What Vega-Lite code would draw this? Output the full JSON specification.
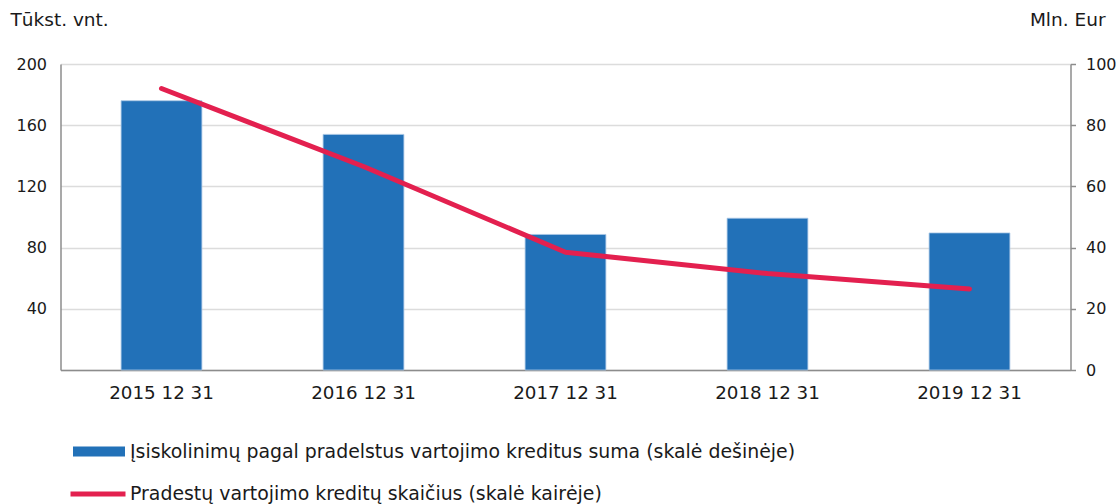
{
  "$schema": "https://vega.github.io/schema/vega-lite/v6.json",
  "width": 1010,
  "height": 306,
  "autosize": "none",
  "padding": {"left": 60.5, "top": 64, "right": 48.5, "bottom": 134},
  "background": "white",
  "config": {
    "font": "DejaVu Sans",
    "view": {"stroke": null},
    "axis": {"labelColor": "#1a1a1a", "titleColor": "#1a1a1a", "domainColor": "#8c8c8c", "domainWidth": 1.5, "tickColor": "#8c8c8c", "gridColor": "#dcdcdc", "gridWidth": 1.5}
  },
  "data": {
    "values": [
      {"date": "2015 12 31", "amount": 88.0, "count": 184},
      {"date": "2016 12 31", "amount": 77.0, "count": 133},
      {"date": "2017 12 31", "amount": 44.3, "count": 77},
      {"date": "2018 12 31", "amount": 49.6, "count": 63},
      {"date": "2019 12 31", "amount": 44.8, "count": 53}
    ]
  },
  "encoding": {
    "x": {
      "field": "date", "type": "nominal", "sort": null,
      "scale": {"paddingInner": 0.6, "paddingOuter": 0.3},
      "axis": {"title": null, "labelAngle": 0, "ticks": false, "labelFontSize": 18.3, "labelPadding": 14, "grid": false}
    }
  },
  "layer": [
    {
      "mark": {"type": "bar", "stroke": "#a9c8e6", "strokeWidth": 0.8},
      "encoding": {
        "y": {
          "field": "amount", "type": "quantitative",
          "scale": {"domain": [0, 100]},
          "axis": {"orient": "right", "values": [0, 20, 40, 60, 80, 100], "grid": false, "ticks": true, "tickSize": 5, "tickWidth": 1.5, "labelFontSize": 16, "labelPadding": 10,
            "title": "Mln. Eur", "titleAngle": 0, "titleFontSize": 18.5, "titleFontWeight": "normal", "titleAlign": "right", "titleBaseline": "alphabetic", "titleX": 34.5, "titleY": -39}
        },
        "color": {
          "datum": "Įsiskolinimų pagal pradelstus vartojimo kreditus suma (skalė dešinėje)",
          "type": "nominal",
          "scale": {"range": ["#2271b8"]},
          "legend": {"title": null, "orient": "none", "legendX": 12.5, "legendY": 361.5, "padding": 0,
            "symbolType": "M-1,-0.19H1V0.19H-1Z", "symbolSize": 2704, "symbolStrokeWidth": 0, "symbolOpacity": 1,
            "labelFontSize": 18.9, "labelColor": "#1a1a1a", "labelOffset": 5, "labelLimit": 1000}
        }
      }
    },
    {
      "mark": {"type": "line", "strokeWidth": 5, "strokeCap": "round", "strokeJoin": "round"},
      "encoding": {
        "y": {
          "field": "count", "type": "quantitative",
          "scale": {"domain": [0, 200]},
          "axis": {"orient": "left", "values": [0, 40, 80, 120, 160, 200], "grid": true, "ticks": false, "labelFontSize": 16, "labelPadding": 14,
            "labelExpr": "datum.value == 0 ? '' : datum.label",
            "title": "Tūkst. vnt.", "titleAngle": 0, "titleFontSize": 18.5, "titleFontWeight": "normal", "titleAlign": "left", "titleBaseline": "alphabetic", "titleX": -50.5, "titleY": -39}
        },
        "stroke": {
          "datum": "Pradestų vartojimo kreditų skaičius (skalė kairėje)",
          "type": "nominal",
          "scale": {"range": ["#e3204f"]},
          "legend": {"title": null, "orient": "none", "legendX": 7.5, "legendY": 400, "padding": 0,
            "symbolType": "stroke", "symbolSize": 3025, "symbolStrokeWidth": 5,
            "labelFontSize": 18.9, "labelColor": "#1a1a1a", "labelOffset": 2, "labelLimit": 1000}
        }
      }
    }
  ],
  "resolve": {"scale": {"y": "independent", "color": "independent", "stroke": "independent"}}
}
